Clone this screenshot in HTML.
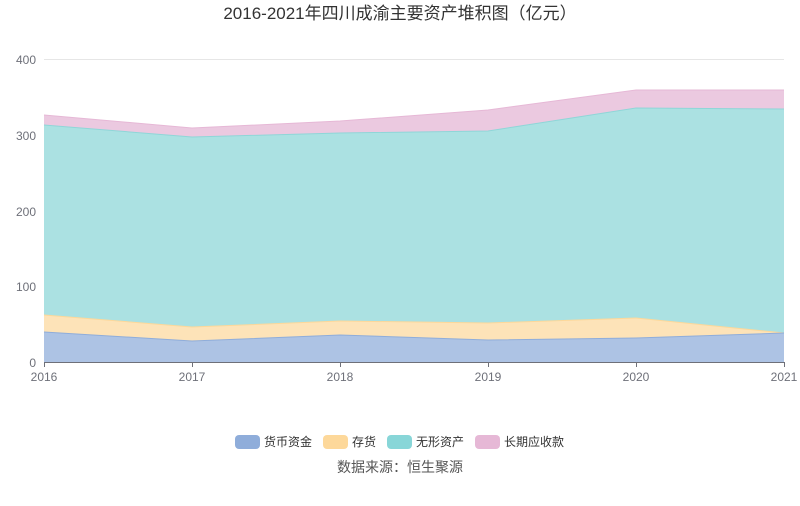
<!DOCTYPE html>
<html><head><meta charset="utf-8"><style>
body{margin:0;background:#fff;}
svg text{font-family:"Liberation Sans","Noto Sans CJK SC",sans-serif;}
</style></head><body>
<svg width="800" height="501" xmlns="http://www.w3.org/2000/svg">
<rect width="800" height="501" fill="#fff"/>
<text x="400" y="19" text-anchor="middle" font-size="17" fill="#333">2016-2021年四川成渝主要资产堆积图（亿元）</text>
<g stroke="#e6e6e6" stroke-width="1">
<line x1="44" y1="59.5" x2="784" y2="59.5"/>
<line x1="44" y1="135.5" x2="784" y2="135.5"/>
<line x1="44" y1="211.5" x2="784" y2="211.5"/>
<line x1="44" y1="286.5" x2="784" y2="286.5"/>
</g>
<g font-size="12" fill="#6e7079" text-anchor="end">
<text x="36" y="64">400</text><text x="36" y="140">300</text><text x="36" y="216">200</text><text x="36" y="291">100</text><text x="36" y="367">0</text>
</g>
<!-- 长期应收款 -->
<polygon fill="#ebc9e0" points="44,115 192,128 340,121 488,110 636,90 784,90 784,109 636,108 488,131 340,133 192,137 44,125"/>
<!-- 无形资产 -->
<polygon fill="#abe1e2" points="44,125 192,137 340,133 488,131 636,108 784,109 784,333 636,318 488,323 340,321 192,327 44,315"/>
<!-- 存货 -->
<polygon fill="#fde3b8" points="44,315 192,327 340,321 488,323 636,318 784,333 784,333 636,338 488,340 340,335 192,341 44,332"/>
<!-- 货币资金 -->
<polygon fill="#adc3e4" points="44,332 192,341 340,335 488,340 636,338 784,333 784,362 44,362"/>
<g fill="none" stroke-width="1">
<polyline stroke="#e6b8d6" points="44,115 192,128 340,121 488,110 636,90 784,90"/>
<polyline stroke="#8fd6d8" points="44,125 192,137 340,133 488,131 636,108 784,109"/>
<polyline stroke="#fdd89a" points="44,315 192,327 340,321 488,323 636,318 784,333"/>
<polyline stroke="#8fadda" points="44,332 192,341 340,335 488,340 636,338 784,333"/>
</g>
<line x1="44" y1="362.5" x2="784" y2="362.5" stroke="#6e7079"/>
<g stroke="#6e7079">
<line x1="44.5" y1="362" x2="44.5" y2="367"/><line x1="192.5" y1="362" x2="192.5" y2="367"/><line x1="340.5" y1="362" x2="340.5" y2="367"/><line x1="488.5" y1="362" x2="488.5" y2="367"/><line x1="636.5" y1="362" x2="636.5" y2="367"/><line x1="784.5" y1="362" x2="784.5" y2="367"/>
</g>
<g font-size="12" fill="#6e7079" text-anchor="middle">
<text x="44" y="381">2016</text><text x="192" y="381">2017</text><text x="340" y="381">2018</text><text x="488" y="381">2019</text><text x="636" y="381">2020</text><text x="784" y="381">2021</text>
</g>
<g font-size="12" fill="#333">
<rect x="235" y="435" width="25" height="14" rx="4" fill="#8fadda"/><text x="264" y="446">货币资金</text>
<rect x="323" y="435" width="25" height="14" rx="4" fill="#fdd89a"/><text x="352" y="446">存货</text>
<rect x="387" y="435" width="25" height="14" rx="4" fill="#88d6d8"/><text x="416" y="446">无形资产</text>
<rect x="475" y="435" width="25" height="14" rx="4" fill="#e6b8d6"/><text x="504" y="446">长期应收款</text>
</g>
<text x="400" y="472" text-anchor="middle" font-size="14" fill="#555">数据来源：恒生聚源</text>
</svg>
</body></html>
